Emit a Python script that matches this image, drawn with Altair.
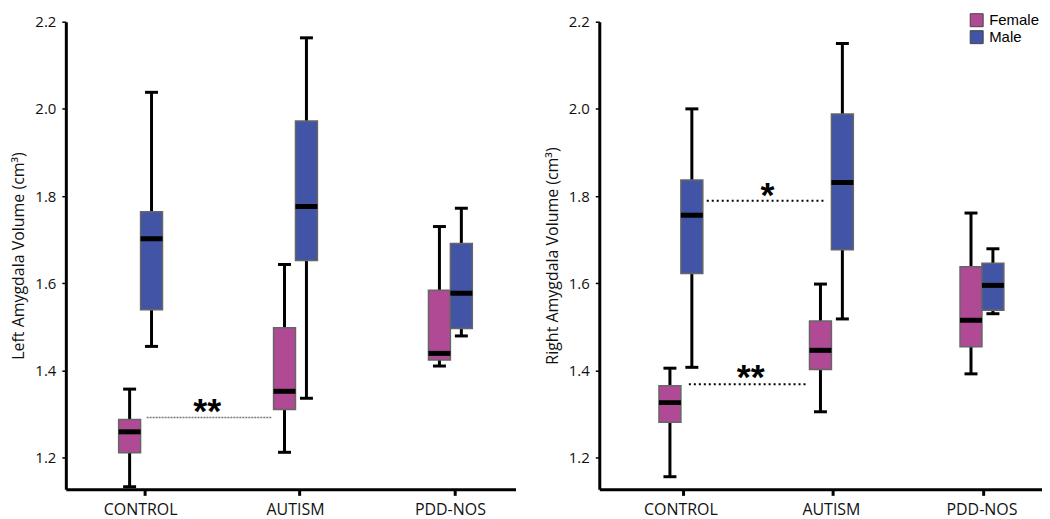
import altair as alt
import pandas as pd

groups = ["CONTROL", "AUTISM", "PDD-NOS"]
sexes = ["Female", "Male"]
sex_colors = ["#B04A95", "#4254A5"]

box_group = ["CONTROL", "CONTROL", "AUTISM", "AUTISM", "PDD-NOS", "PDD-NOS"]
box_sex = ["Female", "Male", "Female", "Male", "Female", "Male"]

# Left amygdala volume (cm3)
left_low = [1.133, 1.455, 1.212, 1.336, 1.410, 1.479]
left_q1 = [1.211, 1.539, 1.310, 1.652, 1.424, 1.496]
left_med = [1.259, 1.702, 1.352, 1.776, 1.439, 1.577]
left_q3 = [1.287, 1.764, 1.498, 1.972, 1.584, 1.691]
left_high = [1.357, 2.038, 1.643, 2.163, 1.730, 1.772]

# Right amygdala volume (cm3)
right_low = [1.156, 1.407, 1.305, 1.518, 1.392, 1.530]
right_q1 = [1.281, 1.622, 1.402, 1.677, 1.454, 1.538]
right_med = [1.326, 1.756, 1.446, 1.831, 1.515, 1.595]
right_q3 = [1.365, 1.837, 1.513, 1.988, 1.638, 1.646]
right_high = [1.405, 2.000, 1.598, 2.150, 1.761, 1.679]

# significance brackets (x in category-index units, y in cm3)
left_sig_x0 = [0.039]
left_sig_x1 = [0.849]
left_sig_y = [1.292]
left_sig_text = ["**"]
left_sig_tx = [0.431]
left_sig_ty = [1.315]

right_sig_x0 = [0.172, 0.053]
right_sig_x1 = [0.967, 0.848]
right_sig_y = [1.789, 1.368]
right_sig_text = ["*", "**"]
right_sig_tx = [0.576, 0.464]
right_sig_ty = [1.812, 1.395]

y_ticks = [1.2, 1.4, 1.6, 1.8, 2.0, 2.2]
y_domain = [1.127, 2.2]
PLOT_H = 469


def band_domain(W, n, pi, po, align):
    step = W / (n - pi + 2 * po)
    bw = step * (1 - pi)
    start = (W - step * (n - pi)) * align
    c0 = start + bw / 2
    return [-c0 / step, (W - c0) / step]


def panel(title, low, q1, med, q3, high, sx0, sx1, sy, stext, stx, sty,
          W, pi, po, align, tick_band, dash, dash_color, dash_width, show_legend):
    df = pd.DataFrame({"group": box_group, "sex": box_sex, "low": low,
                       "q1": q1, "med": med, "q3": q3, "high": high})
    yaxis = alt.Axis(values=y_ticks, format=".1f", title=title, tickSize=4,
                     tickWidth=1.5, labelPadding=6, labelFontSize=15,
                     titleFontSize=16, titleFontWeight="normal", titlePadding=8,
                     labelFont="Open Sans", titleFont="Open Sans",
                     labelColor="#111", titleColor="#111")
    yscale = alt.Scale(domain=y_domain, nice=False, zero=False)
    xenc = alt.X("group:N", sort=groups,
                 scale=alt.Scale(domain=groups, paddingInner=pi, paddingOuter=po, align=align),
                 axis=alt.Axis(title=None, labelAngle=0, labelFontSize=16,
                               labelFont="Open Sans", labelColor="#111", tickSize=6,
                               tickWidth=3, labelPadding=6, bandPosition=tick_band))
    xoff = alt.XOffset("sex:N", scale=alt.Scale(domain=sexes, paddingInner=0, paddingOuter=0))
    base = alt.Chart(df).encode(x=xenc, xOffset=xoff)

    whisk = base.mark_rule(color="black", strokeWidth=3).encode(
        y=alt.Y("low:Q", scale=yscale, axis=yaxis), y2="high:Q")
    if show_legend:
        legend = alt.Legend(title=None, orient="none", legendX=371, legendY=-9,
                            symbolType="square", symbolSize=169,
                            symbolStrokeColor="#444", symbolStrokeWidth=1,
                            labelFont="Liberation Sans", labelFontSize=15,
                            labelColor="#000", rowPadding=0, padding=0, labelOffset=5)
    else:
        legend = None
    box = base.mark_bar(stroke="#666", strokeWidth=1.5).encode(
        y=alt.Y("q1:Q", scale=yscale, axis=yaxis), y2="q3:Q",
        color=alt.Color("sex:N", scale=alt.Scale(domain=sexes, range=sex_colors), legend=legend))
    medt = base.mark_tick(color="black", thickness=5, size=22, opacity=1).encode(
        y=alt.Y("med:Q", scale=yscale, axis=yaxis))
    caplo = base.mark_tick(color="black", thickness=3, size=13, opacity=1).encode(
        y=alt.Y("low:Q", scale=yscale, axis=yaxis))
    caphi = base.mark_tick(color="black", thickness=3, size=13, opacity=1).encode(
        y=alt.Y("high:Q", scale=yscale, axis=yaxis))

    sdf = pd.DataFrame({"x0": sx0, "x1": sx1, "y": sy, "t": stext, "tx": stx, "ty": sty})
    xlin = alt.Scale(domain=band_domain(W, 3, pi, po, align), nice=False, zero=False)
    sig_line = alt.Chart(sdf).mark_rule(color=dash_color, strokeWidth=dash_width,
                                        strokeDash=dash).encode(
        x=alt.X("x0:Q", scale=xlin, axis=None), x2="x1:Q",
        y=alt.Y("y:Q", scale=yscale, axis=yaxis))
    sig_text = alt.Chart(sdf).mark_text(font="Liberation Sans", fontSize=36, fontWeight="bold",
                                        color="black", baseline="middle", dy=5).encode(
        x=alt.X("tx:Q", scale=xlin, axis=None),
        y=alt.Y("ty:Q", scale=yscale, axis=yaxis), text="t:N")

    boxes = alt.layer(whisk, box, medt, caplo, caphi)
    return alt.layer(boxes, sig_line, sig_text).resolve_scale(x="independent").properties(
        width=W, height=PLOT_H)


left = panel("Left Amygdala Volume (cm³)", left_low, left_q1, left_med, left_q3, left_high,
             left_sig_x0, left_sig_x1, left_sig_y, left_sig_text, left_sig_tx, left_sig_ty,
             451, 0.717, 0.31, 0.55, 0.6, [2, 1], "#777", 1.5, False)
right = panel("Right Amygdala Volume (cm³)", right_low, right_q1, right_med, right_q3, right_high,
              right_sig_x0, right_sig_x1, right_sig_y, right_sig_text, right_sig_tx, right_sig_ty,
              444, 0.709, 0.325, 0.61, 0.55, [2, 3], "#000", 2, True)

chart = alt.hconcat(left, right, spacing=28).resolve_scale(color="independent").properties(
    padding={"left": 2, "top": 4, "right": 0, "bottom": 6}
).configure_view(stroke=None).configure_axis(
    grid=False, domainColor="black", domainWidth=3, tickColor="black")

chart.save("out.html", embed_options={"renderer": "svg", "actions": False})
